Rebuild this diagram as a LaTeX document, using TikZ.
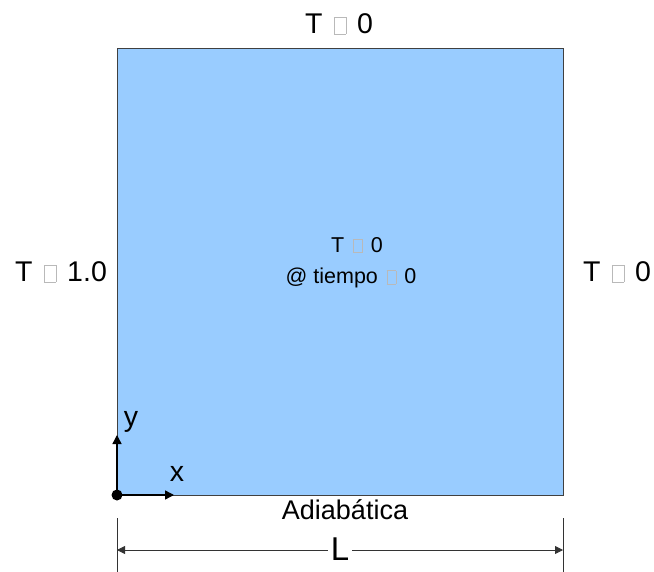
\documentclass[tikz,border=0pt]{standalone}
\usepackage{fontspec}
\setmainfont{Liberation Sans}
\usetikzlibrary{arrows.meta}
\definecolor{fillblue}{HTML}{99CCFF}
\definecolor{edgegrey}{HTML}{404040}
\newcommand{\bx}{\hspace{0.12em}{\setlength\fboxsep{0pt}\setlength\fboxrule{0.6pt}\textcolor{gray!55}{\fbox{\rule{0pt}{0.58em}\hspace{0.4em}}}}\hspace{0.1em}}
\begin{document}
\begin{tikzpicture}[x=1pt,y=-1pt,
  lbl/.style={inner sep=0pt,font=\fontsize{28.5}{32}\selectfont},
  smalllbl/.style={inner sep=0pt,font=\fontsize{21.5}{25}\selectfont},
  axisarrow/.style={-{Triangle[length=9pt,width=9pt]},line width=1.4pt,black},
  dimarrow/.style={{Triangle[length=8pt,width=8pt]}-{Triangle[length=8pt,width=8pt]},line width=0.8pt,black!80}]
\useasboundingbox (0,0) rectangle (654,572);
\node[draw=edgegrey,fill=fillblue,line width=0.8pt,minimum width=446pt,minimum height=447pt,inner sep=0pt,anchor=north west] (plate) at (117,48) {};
\node[lbl] (top) at (339,24) {T \bx\ 0};
\node[lbl] (left) at (61,272) {T \bx\ 1.0};
\node[lbl] (right) at (617,272) {T \bx\ 0};
\node[smalllbl] (c1) at (357,245) {T \bx\ 0};
\node[smalllbl] (c2) at (351,278) {@ tiempo \bx\ 0};
\node[inner sep=0pt,font=\fontsize{27}{31}\selectfont] (adia) at (345,510) {Adiabática};
% axes
\coordinate (o) at (117,495);
\coordinate (xe) at (174,495);
\coordinate (ye) at (117,435);
\draw[axisarrow] (o) -- (xe);
\draw[axisarrow] (o) -- (ye);
\fill (o) circle (5.5pt);
\node[lbl] (xl) at (177,474) {x};
\node[lbl] (yl) at (131,422) {y};
% dimension
\coordinate (t1a) at (117,518);
\coordinate (t1b) at (117,572);
\coordinate (t2a) at (563,518);
\coordinate (t2b) at (563,572);
\draw[line width=0.8pt,black!80] (t1a) -- (t1b);
\draw[line width=0.8pt,black!80] (t2a) -- (t2b);
\coordinate (d1) at (117,550);
\coordinate (d2) at (563,550);
\draw[dimarrow] (d1) -- (d2);
\node[lbl,fill=white,inner xsep=3pt,font=\fontsize{33}{38}\selectfont] (L) at (340,549) {L};
\end{tikzpicture}
\end{document}
